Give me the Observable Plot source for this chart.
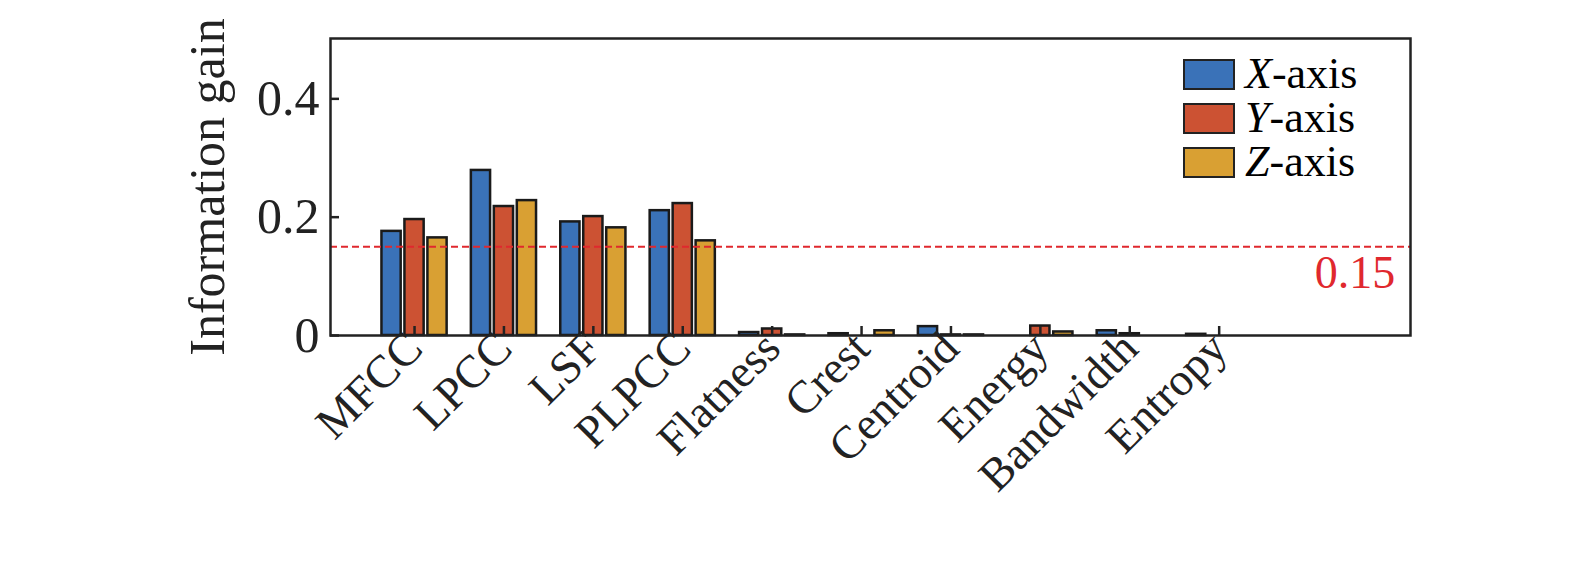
<!DOCTYPE html>
<html><head><meta charset="utf-8">
<script src="https://cdn.jsdelivr.net/npm/d3@7"></script>
<script src="https://cdn.jsdelivr.net/npm/@observablehq/plot@0.6"></script>
<style>body{margin:0;background:#fff}#c{position:relative;width:1575px;height:564px}
.lg{position:absolute;left:1183px;top:52px;font-family:"Liberation Serif";font-size:44px;line-height:44px}
.lg div{display:flex;align-items:center}.lg span.s{display:inline-block;width:52px;height:31px;border:2.5px solid #222;margin-right:10px;box-sizing:border-box}
svg text{font-family:"Liberation Serif"}
</style></head><body><div id="c"></div>
<script>
const categories=["MFCC","LPCC","LSF","PLPCC","Flatness","Crest","Centroid","Energy","Bandwidth","Entropy"];
const series=["X","Y","Z"];
const colors=["#3a72b8","#cc5233","#d9a033"];
const xVals=[0.176,0.279,0.192,0.211,0.005,0.003,0.015,0,0.008,0.002];
const yVals=[0.196,0.218,0.201,0.223,0.011,0,0.001,0.016,0.003,0];
const zVals=[0.165,0.228,0.182,0.160,0.001,0.008,0.001,0.006,0,0];
const threshold=0.15;
const yTicks=[0,0.2,0.4];
const vals=[xVals,yVals,zVals];
const data=[];
series.forEach((s,k)=>categories.forEach((c,i)=>data.push({i,k,s,v:vals[k][i]})));
const step=0.257,w=0.215;
const chart=Plot.plot({
  width:1575,height:564,marginLeft:330,marginRight:165,marginTop:38,marginBottom:229,
  style:{fontFamily:"Liberation Serif",fontSize:"50px",color:"#222",background:"#fff",overflow:"visible"},
  x:{domain:[-0.94,11.14]},
  y:{domain:[0,0.502]},
  marks:[
    Plot.rectY(data,{x1:d=>d.i+(d.k-1)*step-w/2,x2:d=>d.i+(d.k-1)*step+w/2,y1:0,y2:"v",fill:d=>colors[d.k],stroke:"#1a1a1a",strokeWidth:2.5}),
    Plot.ruleY([threshold],{stroke:"#e0282e",strokeWidth:2,strokeDasharray:"7,4"}),
    Plot.text([threshold],{x:10.97,y:d=>d-0.045,text:d=>String(d),textAnchor:"end",fill:"#e0282e",fontSize:46}),
    Plot.axisY({ticks:yTicks,tickFormat:d=>d===0?"0":String(d),tickSize:-9,tickPadding:20,strokeWidth:2.5,fontSize:50,label:"Information gain",labelAnchor:"center",labelArrow:"none",labelOffset:142}),
    Plot.axisX({ticks:d3.range(categories.length),tickFormat:i=>categories[i],tickSize:-9,tickPadding:14,strokeWidth:2.5,tickRotate:-45,textAnchor:"end",fontSize:46,label:null}),
    Plot.frame({stroke:"#222",strokeWidth:2.5})
  ]
});
const c=document.getElementById("c");c.appendChild(chart);
const lg=document.createElement("div");lg.className="lg";
series.forEach((s,k)=>{const r=document.createElement("div");r.innerHTML=`<span class="s" style="background:${colors[k]}"></span><i>${s}</i>-axis`;lg.appendChild(r);});
c.appendChild(lg);
</script></body></html>
